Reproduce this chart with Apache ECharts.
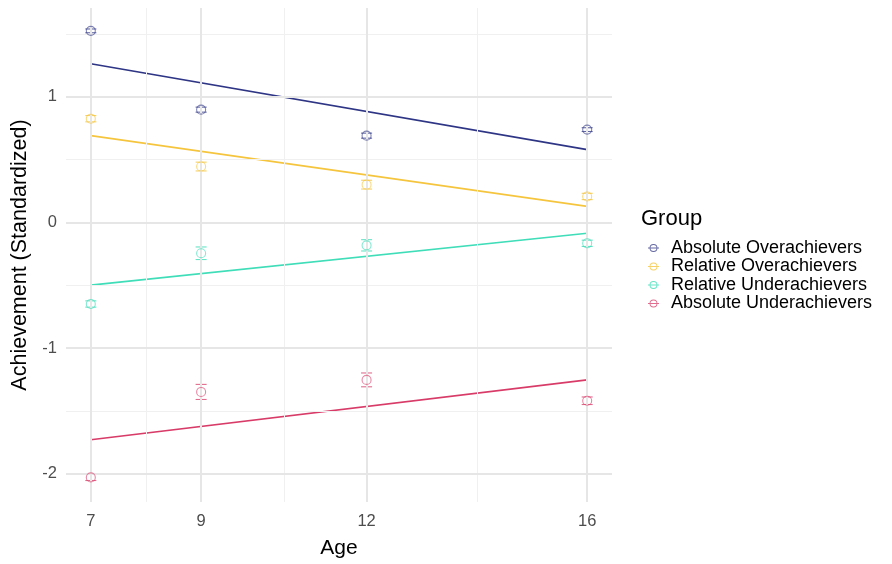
<!DOCTYPE html>
<html>
<head>
<meta charset="utf-8">
<script src="https://cdn.jsdelivr.net/npm/echarts@6/dist/echarts.min.js"></script>
<style>html,body{margin:0;padding:0;background:#fff}#c{width:892px;height:564px}</style>
</head>
<body>
<div id="c"></div>
<script>
// ---- data ----
var ages = [7, 9, 12, 16];
var groups = ["Absolute Overachievers", "Relative Overachievers", "Relative Underachievers", "Absolute Underachievers"];
var meansAO = [1.524, 0.897, 0.690, 0.738];
var meansRO = [0.825, 0.444, 0.300, 0.206];
var meansRU = [-0.650, -0.246, -0.183, -0.167];
var meansAU = [-2.030, -1.350, -1.254, -1.420];
var errAO = [0.015, 0.02, 0.02, 0.015];
var errRO = [0.025, 0.035, 0.035, 0.025];
var errRU = [0.025, 0.05, 0.045, 0.025];
var errAU = [0.025, 0.06, 0.055, 0.03];
var fitAO = [1.262, 0.579];
var fitRO = [0.690, 0.127];
var fitRU = [-0.500, -0.087];
var fitAU = [-1.730, -1.254];
var fitAges = [7, 16];
var xTicks = [7, 9, 12, 16];
var xMinor = [8, 10.5, 14];
var yTicks = [-2, -1, 0, 1];
var yMinor = [-1.5, -0.5, 0.5, 1.5];

var colors = ["#2E3585", "#F5C53E", "#3FDDB8", "#D83B68"];
var pointColors = ["rgba(60,66,140,0.8)", "rgba(245,197,62,0.8)", "rgba(63,221,184,0.8)", "rgba(216,59,104,0.75)"];
var means = [meansAO, meansRO, meansRU, meansAU];
var errs = [errAO, errRO, errRU, errAU];
var fits = [fitAO, fitRO, fitRU, fitAU];

var FONT = "'Liberation Sans', Arial, sans-serif";
var xMin = 6.55, xMax = 16.45, yMin = -2.226, yMax = 1.706;

var series = [];
var gridLines = [];
xMinor.forEach(function (v) { gridLines.push({ xAxis: v, lineStyle: { color: "#F0F0F0", width: 1, type: "solid" } }); });
yMinor.forEach(function (v) { gridLines.push({ yAxis: v, lineStyle: { color: "#F0F0F0", width: 1, type: "solid" } }); });
xTicks.forEach(function (v) { gridLines.push({ xAxis: v, lineStyle: { color: "#E6E6E6", width: 2, type: "solid" } }); });
yTicks.forEach(function (v) { gridLines.push({ yAxis: v, lineStyle: { color: "#E6E6E6", width: 2, type: "solid" } }); });
series.push({
  type: "line", data: [], silent: true,
  markLine: { silent: true, symbol: "none", label: { show: false }, animation: false,
    lineStyle: { type: "solid" }, emphasis: { disabled: true }, data: gridLines }
});

groups.forEach(function (g, i) {
  series.push({
    name: g, type: "line", showSymbol: false, animation: false, z: 3,
    data: fitAges.map(function (a, k) { return [a, fits[i][k]]; }),
    lineStyle: { color: colors[i], width: 1.6 }, itemStyle: { color: colors[i] }
  });
  series.push({
    name: g, type: "custom", animation: false, z: 4,
    data: ages.map(function (a, k) { return [a, means[i][k] - errs[i][k], means[i][k] + errs[i][k]]; }),
    renderItem: function (params, api) {
      var x = api.value(0);
      var lo = api.coord([x, api.value(1)]);
      var hi = api.coord([x, api.value(2)]);
      var hw = 5.5;
      var st = { stroke: pointColors[i], lineWidth: 1.1, fill: null };
      return {
        type: "group", children: [
          { type: "line", shape: { x1: lo[0], y1: lo[1], x2: hi[0], y2: hi[1] }, style: st },
          { type: "line", shape: { x1: lo[0] - hw, y1: lo[1], x2: lo[0] + hw, y2: lo[1] }, style: st },
          { type: "line", shape: { x1: hi[0] - hw, y1: hi[1], x2: hi[0] + hw, y2: hi[1] }, style: st }
        ]
      };
    }
  });
  series.push({
    name: g, type: "scatter", animation: false, z: 5,
    symbol: "circle", symbolSize: 9,
    data: ages.map(function (a, k) { return [a, means[i][k]]; }),
    itemStyle: { color: "rgba(0,0,0,0)", borderColor: pointColors[i], borderWidth: 1.1 }
  });
});

var icon = "path://M1,6 A5,5 0 1,1 11,6 A5,5 0 1,1 1,6 Z M2.1,6 A3.9,3.9 0 1,0 9.9,6 A3.9,3.9 0 1,0 2.1,6 Z M-1,5.45 L13,5.45 L13,6.55 L-1,6.55 Z";

var chart = echarts.init(document.getElementById("c"), null, { renderer: "canvas" });
chart.setOption({
  backgroundColor: "#fff",
  animation: false,
  textStyle: { fontFamily: FONT },
  grid: { left: 66, right: 280, top: 8, bottom: 57 },
  title: {
    text: "Group", left: 636, top: 203,
    textStyle: { fontFamily: FONT, fontSize: 22, fontWeight: "normal", color: "#000" }
  },
  legend: {
    orient: "vertical", left: 643, top: 234, itemGap: 0.5, itemWidth: 11, itemHeight: 11,
    textStyle: { fontFamily: FONT, fontSize: 18, lineHeight: 16.8, color: "#000", padding: [0, 0, 0, 7] },
    data: groups.map(function (g, i) { return { name: g, icon: icon, itemStyle: { color: pointColors[i], borderWidth: 0 } }; })
  },
  xAxis: {
    type: "value", min: xMin, max: xMax,
    name: "Age", nameLocation: "middle", nameGap: 36,
    nameTextStyle: { fontFamily: FONT, fontSize: 21, color: "#000" },
    axisLine: { show: false }, axisTick: { show: false }, splitLine: { show: false },
    axisLabel: { customValues: xTicks, color: "#4D4D4D", fontSize: 16.5, margin: 11, fontFamily: FONT }
  },
  yAxis: {
    type: "value", min: yMin, max: yMax,
    name: "Achievement (Standardized)", nameLocation: "middle", nameGap: 32, nameRotate: 90,
    nameTextStyle: { fontFamily: FONT, fontSize: 21.5, color: "#000" },
    axisLine: { show: false }, axisTick: { show: false }, splitLine: { show: false },
    axisLabel: { customValues: yTicks, color: "#4D4D4D", fontSize: 16.5, margin: 9, fontFamily: FONT }
  },
  series: series
});
</script>
</body>
</html>
